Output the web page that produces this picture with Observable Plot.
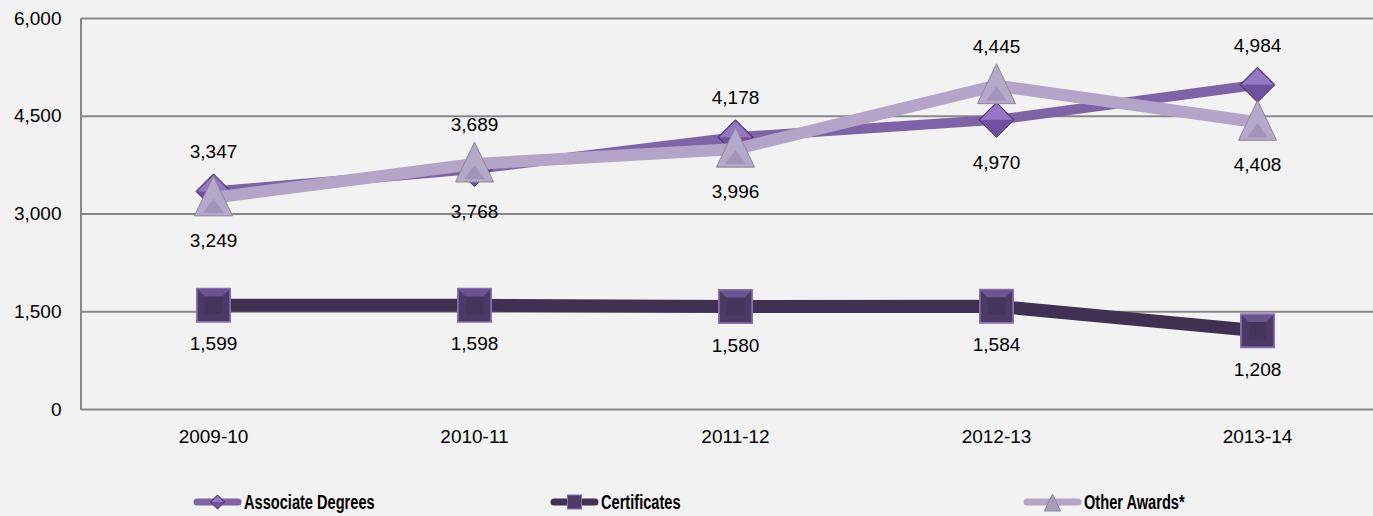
<!DOCTYPE html>
<html>
<head>
<meta charset="utf-8">
<script src="https://cdn.jsdelivr.net/npm/d3@7"></script>
<script src="https://cdn.jsdelivr.net/npm/@observablehq/plot@0.6"></script>
<style>
html, body { margin: 0; padding: 0; background: #f2f2f2; overflow: hidden; width: 1373px; height: 516px; }
#legend { position: relative; width: 1373px; height: 56px; font-family: "Liberation Sans", Arial, sans-serif; font-weight: bold; font-size: 20px; color: #000; }
#legend .item { position: absolute; top: 14px; height: 56px; display: flex; align-items: center; white-space: nowrap; }
#legend .item svg { display: block; margin-right: 2px; }
#legend .item span { display: inline-block; transform: scaleX(0.73); transform-origin: left center; }
</style>
</head>
<body>
<div id="chart"></div>
<div id="legend"></div>
<script>
// ---- data ----
const years = ["2009-10", "2010-11", "2011-12", "2012-13", "2013-14"];
const associate = [3347, 3689, 4178, 4445, 4984];
const certificates = [1599, 1598, 1580, 1584, 1208];
const other = [3249, 3768, 3996, 4970, 4408];
const upperLabels = ["3,347", "3,689", "4,178", "4,445", "4,984"];
const lowerLabels = ["3,249", "3,768", "3,996", "4,970", "4,408"];
const certLabels = ["1,599", "1,598", "1,580", "1,584", "1,208"];
const yTicks = [0, 1500, 3000, 4500, 6000];
const seriesNames = ["Associate Degrees", "Certificates", "Other Awards*"];

const rows = years.map((year, i) => ({
  year,
  associate: associate[i],
  certificates: certificates[i],
  other: other[i],
  upper: Math.max(associate[i], other[i]),
  lower: Math.min(associate[i], other[i]),
  upperLabel: upperLabels[i],
  lowerLabel: lowerLabels[i],
  certLabel: certLabels[i]
}));

// ---- custom symbols ----
const unit = s => Math.sqrt(s / Math.PI);
const diamondSym = {draw(c, s) { const r = unit(s); c.moveTo(0, -r); c.lineTo(r, 0); c.lineTo(0, r); c.lineTo(-r, 0); c.closePath(); }};
const diamondTopSym = {draw(c, s) { const r = unit(s); c.moveTo(0, -r); c.lineTo(r, 0); c.lineTo(-r, 0); c.closePath(); }};
const squareSym = {draw(c, s) { const r = unit(s); c.moveTo(-r, -r); c.lineTo(r, -r); c.lineTo(r, r); c.lineTo(-r, r); c.closePath(); }};
const squareBevelSym = {draw(c, s) { const r = unit(s); const q = r * 0.55; c.moveTo(-r, -r); c.lineTo(r, -r); c.lineTo(q, -q); c.lineTo(-q, -q); c.closePath(); }};
const triSym = {draw(c, s) { const r = unit(s); c.moveTo(0, -1.15 * r); c.lineTo(r, 0.95 * r); c.lineTo(-r, 0.95 * r); c.closePath(); }};
const triInnerSym = {draw(c, s) { const r = unit(s); c.moveTo(0, 0.05 * r); c.lineTo(0.55 * r, 0.8 * r); c.lineTo(-0.55 * r, 0.8 * r); c.closePath(); }};

const leftLine = (index, scales, values, dims) => {
  const y0 = dims.marginTop, y1 = dims.height - dims.marginBottom;
  return d3.create("svg:line")
    .attr("x1", dims.marginLeft).attr("x2", dims.marginLeft)
    .attr("y1", y0).attr("y2", y1 + 1)
    .attr("stroke", "#888").attr("stroke-width", 2).node();
};

const chart = Plot.plot({
  width: 1373,
  height: 460,
  marginLeft: 81,
  marginRight: -16,
  marginTop: 18,
  marginBottom: 51,
  style: {background: "#f2f2f2", fontFamily: "'Liberation Sans', Arial, sans-serif", fontSize: "19px", color: "#000"},
  x: {type: "point", domain: years, padding: 0.5, label: null},
  y: {domain: [0, 6000], label: null},
  marks: [
    Plot.gridY(yTicks, {stroke: "#888", strokeOpacity: 1, strokeWidth: 2}),
    leftLine,
    Plot.axisY(yTicks, {tickSize: 0, tickPadding: 20, tickFormat: d3.format(","), label: null}),
    Plot.axisX({tickSize: 0, tickPadding: 20, label: null}),
    // Associate Degrees
    Plot.line(rows, {x: "year", y: "associate", stroke: "#7f63a7", strokeWidth: 10, strokeLinejoin: "round"}),
    Plot.dot(rows, {x: "year", y: "associate", symbol: diamondSym, r: 17.5, fill: "#6f519d", stroke: "#3f2a5c", strokeWidth: 1, ariaLabel: "marker"}),
    Plot.dot(rows, {x: "year", y: "associate", symbol: diamondTopSym, r: 16, fill: "#9677c5"}),
    // Certificates
    Plot.line(rows, {x: "year", y: "certificates", stroke: "#403152", strokeWidth: 13, strokeLinejoin: "round"}),
    Plot.dot(rows, {x: "year", y: "certificates", symbol: squareSym, r: 17.5, fill: "#8a6fb5", ariaLabel: "marker"}),
    Plot.dot(rows, {x: "year", y: "certificates", symbol: squareSym, r: 15.8, fill: "#4a3a64"}),
    Plot.dot(rows, {x: "year", y: "certificates", symbol: squareBevelSym, r: 15.8, fill: "#6a5590"}),
    Plot.dot(rows, {x: "year", y: "certificates", symbol: squareSym, r: 8.7, fill: "#44355c"}),
    // Other Awards
    Plot.line(rows, {x: "year", y: "other", stroke: "#b3a4c8", strokeWidth: 12, strokeLinejoin: "round"}),
    Plot.dot(rows, {x: "year", y: "other", symbol: triSym, r: 19, fill: "#b5a9c9", stroke: "#8f8499", strokeWidth: 1, ariaLabel: "marker"}),
    Plot.dot(rows, {x: "year", y: "other", symbol: triInnerSym, r: 19, fill: "#a294b8"}),
    // labels
    Plot.text(rows, {x: "year", y: "upper", text: "upperLabel", dy: -39, fill: "#000"}),
    Plot.text(rows, {x: "year", y: "lower", text: "lowerLabel", dy: 43, fill: "#000"}),
    Plot.text(rows, {x: "year", y: "certificates", text: "certLabel", dy: 39, fill: "#000"})
  ]
});

d3.select(chart).selectAll('g[aria-label="marker"]').style("filter", "drop-shadow(1px 3px 2px rgba(0,0,0,0.35))");
document.getElementById("chart").appendChild(chart);

// ---- legend ----
const legendItems = [
  {name: seriesNames[0], left: 193, w: 49, color: "#7f63a7", sym: "diamond"},
  {name: seriesNames[1], left: 550, w: 49, color: "#403152", sym: "square"},
  {name: seriesNames[2], left: 1023, w: 59, color: "#b3a4c8", sym: "triangle"}
];
const legend = d3.select("#legend");
for (const it of legendItems) {
  const div = legend.append("div").attr("class", "item").style("left", it.left + "px");
  const svg = div.append("svg").attr("width", it.w).attr("height", 20);
  svg.append("line").attr("x1", 4).attr("x2", it.w - 4).attr("y1", 10).attr("y2", 10)
    .attr("stroke", it.color).attr("stroke-width", 7).attr("stroke-linecap", "round");
  const cx = it.w / 2;
  if (it.sym === "diamond") {
    svg.append("path").attr("d", `M${cx},3L${cx + 7},10L${cx},17L${cx - 7},10Z`).attr("fill", "#6f519d").attr("stroke", "#3f2a5c");
    svg.append("path").attr("d", `M${cx},4L${cx + 6},10L${cx - 6},10Z`).attr("fill", "#9677c5");
  } else if (it.sym === "square") {
    svg.append("rect").attr("x", cx - 7.5).attr("y", 2.5).attr("width", 15).attr("height", 15).attr("fill", "#8a6fb5");
    svg.append("rect").attr("x", cx - 6.5).attr("y", 3.5).attr("width", 13).attr("height", 13).attr("fill", "#4a3a64");
  } else {
    svg.append("path").attr("d", `M${cx},2L${cx + 8},19L${cx - 8},19Z`).attr("fill", "#a99cbf").attr("stroke", "#8f8499");
  }
  div.append("span").text(it.name);
}
</script>
</body>
</html>
